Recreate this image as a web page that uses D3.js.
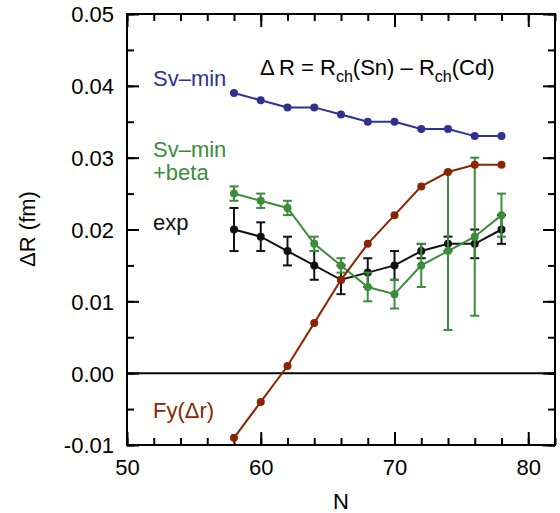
<!DOCTYPE html>
<html>
<head>
<meta charset="utf-8">
<script src="https://cdn.jsdelivr.net/npm/d3@7"></script>
<style>
html,body{margin:0;padding:0;background:#fff;}
svg text{font-family:"Liberation Sans",Arial,Helvetica,sans-serif;}
</style>
</head>
<body>
<svg id="chart" width="560" height="513"></svg>
<script>
const N = [58, 60, 62, 64, 66, 68, 70, 72, 74, 76, 78];
const svMin = [0.039, 0.038, 0.037, 0.037, 0.036, 0.035, 0.035, 0.034, 0.034, 0.033, 0.033];
const svMinBeta = [0.025, 0.024, 0.023, 0.018, 0.015, 0.012, 0.011, 0.015, 0.017, 0.019, 0.022];
const svMinBetaErr = [0.001, 0.001, 0.001, 0.001, 0.001, 0.002, 0.002, 0.003, 0.011, 0.011, 0.003];
const expVal = [0.020, 0.019, 0.017, 0.015, 0.013, 0.014, 0.015, 0.017, 0.018, 0.018, 0.020];
const expErr = [0.003, 0.002, 0.002, 0.002, 0.002, 0.002, 0.002, 0.001, 0.001, 0.002, 0.002];
const fy = [-0.009, -0.004, 0.001, 0.007, 0.013, 0.018, 0.022, 0.026, 0.028, 0.029, 0.029];
const xTicks = [50, 60, 70, 80];
const yTicks = [-0.01, 0.00, 0.01, 0.02, 0.03, 0.04, 0.05];
const yTickLabels = ["-0.01", "0.00", "0.01", "0.02", "0.03", "0.04", "0.05"];

const svg = d3.select("#chart");
const L = 127, R = 555, T = 14, B = 445;
const x = d3.scaleLinear().domain([50, 82]).range([L, R]);
const y = d3.scaleLinear().domain([-0.01, 0.05]).range([B, T]);

const colBlue = "#2e3192", colGreen = "#3b8c3b", colRed = "#8b2500", colBlack = "#111";

const xMinor = d3.range(50, 83, 2);
const yMinor = d3.range(-0.01, 0.0501, 0.005);
function addAxis(axis, tr) {
  const g = svg.append("g").attr("transform", tr).call(axis);
  g.select(".domain").remove();
  g.selectAll("line").attr("stroke", "#000").attr("stroke-width", 2);
  return g;
}
// bottom
addAxis(d3.axisBottom(x).tickValues(xMinor).tickSize(-7).tickFormat(""), `translate(0,${B})`);
addAxis(d3.axisBottom(x).tickValues(xTicks).tickSize(-13).tickFormat(d3.format("d")), `translate(0,${B})`)
  .selectAll("text").attr("font-size", 22).attr("fill", "#000").attr("dy", "0").attr("y", 30);
// top
addAxis(d3.axisTop(x).tickValues(xMinor).tickSize(-7).tickFormat(""), `translate(0,${T})`);
addAxis(d3.axisTop(x).tickValues(xTicks).tickSize(-13).tickFormat(""), `translate(0,${T})`);
// left
addAxis(d3.axisLeft(y).tickValues(yMinor).tickSize(-7).tickFormat(""), `translate(${L},0)`);
addAxis(d3.axisLeft(y).tickValues(yTicks).tickSize(-12).tickFormat((d, i) => yTickLabels[i]), `translate(${L},0)`)
  .selectAll("text").attr("font-size", 22).attr("fill", "#000").attr("x", -13).attr("dy", "0.36em");
// right
addAxis(d3.axisRight(y).tickValues(yMinor).tickSize(-7).tickFormat(""), `translate(${R},0)`);
addAxis(d3.axisRight(y).tickValues(yTicks).tickSize(-12).tickFormat(""), `translate(${R},0)`);

// frame
svg.append("rect").attr("x", L).attr("y", T).attr("width", R - L).attr("height", B - T)
  .attr("fill", "none").attr("stroke", "#000").attr("stroke-width", 2);

// zero line
svg.append("line").attr("x1", L).attr("x2", R).attr("y1", y(0)).attr("y2", y(0))
  .attr("stroke", "#000").attr("stroke-width", 2);

const line = d3.line().x(d => x(d[0])).y(d => y(d[1]));

function series(vals, errs, color) {
  const data = N.map((n, i) => [n, vals[i], errs ? errs[i] : 0]);
  const g = svg.append("g");
  if (errs) {
    data.forEach(d => {
      const x0 = x(d[0]), y1 = y(d[1] + d[2]), y2 = y(d[1] - d[2]);
      g.append("line").attr("x1", x0).attr("x2", x0).attr("y1", y1).attr("y2", y2).attr("stroke", color).attr("stroke-width", 2);
      g.append("line").attr("x1", x0 - 4.5).attr("x2", x0 + 4.5).attr("y1", y1).attr("y2", y1).attr("stroke", color).attr("stroke-width", 2);
      g.append("line").attr("x1", x0 - 4.5).attr("x2", x0 + 4.5).attr("y1", y2).attr("y2", y2).attr("stroke", color).attr("stroke-width", 2);
    });
  }
  g.append("path").datum(data).attr("d", line).attr("fill", "none").attr("stroke", color).attr("stroke-width", 2);
  g.selectAll("circle").data(data).join("circle")
    .attr("cx", d => x(d[0])).attr("cy", d => y(d[1])).attr("r", 4).attr("fill", color);
}
series(expVal, expErr, colBlack);
series(svMinBeta, svMinBetaErr, colGreen);
series(svMin, null, colBlue);
series(fy, null, colRed);

function label(txt, xx, yy, color) {
  svg.append("text").attr("x", xx).attr("y", yy).attr("fill", color).attr("font-size", 22).text(txt);
}
label("Sv\u2013min", 153, 86, colBlue);
label("Sv\u2013min", 153, 157, colGreen);
label("+beta", 153, 180, colGreen);
label("exp", 153, 230, colBlack);
label("Fy(\u0394r)", 153, 418, colRed);

// title
const t = svg.append("text").attr("x", 260).attr("y", 75).attr("font-size", 22).attr("fill", "#000");
t.append("tspan").text("\u0394\u2009R = R");
t.append("tspan").attr("font-size", 16).attr("dy", 7).text("ch");
t.append("tspan").attr("dy", -7).text("(Sn) \u2013 R");
t.append("tspan").attr("font-size", 16).attr("dy", 7).text("ch");
t.append("tspan").attr("dy", -7).text("(Cd)");

// axis titles
svg.append("text").attr("x", x(66)).attr("y", 509).attr("text-anchor", "middle").attr("font-size", 22).text("N");
svg.append("text").attr("transform", "translate(35,229) rotate(-90)").attr("text-anchor", "middle")
  .attr("font-size", 22).text("\u0394R (fm)");
</script>
</body>
</html>
